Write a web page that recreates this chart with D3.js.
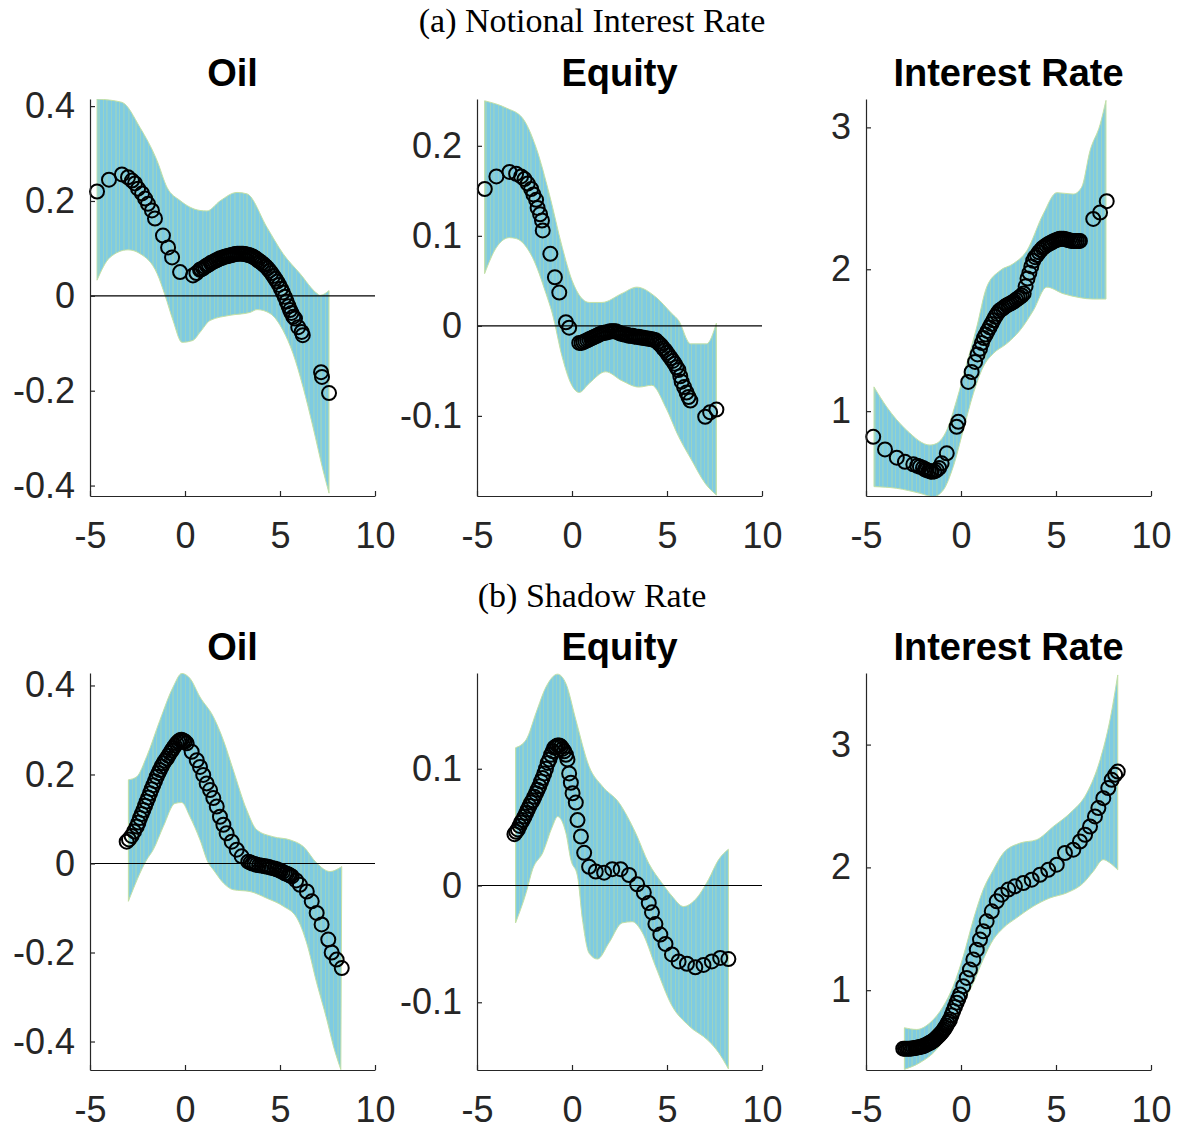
<!DOCTYPE html>
<html>
<head>
<meta charset="utf-8">
<script src="https://cdn.jsdelivr.net/npm/d3@7"></script>
<style>
body{margin:0;background:#fff;}
svg{display:block;}
.tick text{font-family:"Liberation Sans",Arial,sans-serif;font-size:36px;fill:#262626;}
.panelTitle{font-family:"Liberation Sans",Arial,sans-serif;font-size:38px;font-weight:bold;fill:#000;}
.rowTitle{font-family:"Liberation Serif","Times New Roman",serif;font-size:34px;fill:#000;}
</style>
</head>
<body>
<svg id="chart" width="1178" height="1129"></svg>
<script>
// titles and ticks
var rowTitles = ["(a) Notional Interest Rate", "(b) Shadow Rate"];
var panelTitles = ["Oil", "Equity", "Interest Rate"];
var xTicks = [-5, 0, 5, 10];
var oilTicks = [-0.4, -0.2, 0, 0.2, 0.4];
var eqTicksA = [-0.1, 0, 0.1, 0.2];
var eqTicksB = [-0.1, 0, 0.1];
var irTicks = [1, 2, 3];

// y limits
var oilA_ylim = [-0.422, 0.415];
var eqA_ylim = [-0.189, 0.252];
var irA_ylim = [0.402, 3.2];
var oilB_ylim = [-0.464, 0.428];
var eqB_ylim = [-0.158, 0.182];
var irB_ylim = [0.35, 3.583];

// (a) Oil
var oilA_upper = [[-4.63,0.415],[-3.32,0.408],[-2.37,0.355],[-1.47,0.285],[-0.95,0.229],[-0.26,0.201],[0.79,0.18],[1.16,0.179],[1.84,0.2],[2.74,0.218],[3.26,0.215],[4.32,0.144],[5.16,0.089],[6.05,0.047],[6.95,0.005],[7.11,0.001],[7.58,0.011]];
var oilA_lower = [[-4.63,0.033],[-3.95,0.081],[-3.0,0.097],[-2.37,0.089],[-1.47,0.047],[-1.05,0.001],[-0.63,-0.052],[-0.16,-0.098],[0.42,-0.094],[0.79,-0.077],[1.32,-0.052],[2.37,-0.041],[3.42,-0.035],[3.79,-0.029],[4.47,-0.037],[5.16,-0.073],[5.68,-0.121],[6.21,-0.192],[6.74,-0.277],[7.26,-0.367],[7.58,-0.416]];
var oilA_pts = [[-4.63,0.22],[-4.0,0.245],[-3.32,0.256],[-3.0,0.25],[-2.79,0.243],[-2.63,0.237],[-2.47,0.226],[-2.26,0.216],[-2.1,0.205],[-1.95,0.194],[-1.74,0.18],[-1.58,0.163],[-1.16,0.127],[-0.89,0.102],[-0.68,0.081],[-0.26,0.05],[0.42,0.043],[0.6,0.048],[0.79,0.055],
  [0.85,0.056],[0.95,0.058],[1.05,0.061],[1.15,0.064],[1.25,0.066],[1.35,0.069],[1.45,0.071],[1.55,0.073],[1.65,0.075],[1.75,0.077],[1.85,0.079],[1.95,0.08],[2.05,0.082],[2.15,0.083],[2.25,0.084],[2.35,0.085],[2.45,0.086],[2.55,0.087],[2.65,0.088],[2.75,0.089],[2.85,0.089],[2.95,0.089],[3.05,0.089],[3.15,0.088],[3.25,0.087],[3.35,0.086],[3.45,0.085],[3.55,0.083],[3.65,0.081],[3.75,0.078],[3.85,0.075],[3.95,0.072],[4.05,0.069],[4.15,0.066],[4.25,0.062],[4.35,0.058],[4.45,0.053],[4.55,0.048],[4.65,0.042],[4.75,0.036],[4.85,0.03],[4.95,0.023],[5.05,0.015],[5.15,0.007],[5.25,-0.002],[5.35,-0.012],[5.45,-0.022],[5.53,-0.03],[5.6,-0.036],[5.7,-0.044],[5.79,-0.048],[5.96,-0.066],[6.14,-0.076],[6.2,-0.083],[7.16,-0.161],[7.21,-0.171],[7.58,-0.205]];

// (a) Equity
var eqA_upper = [[-4.6,0.25],[-3.46,0.242],[-2.61,0.231],[-1.89,0.198],[-1.19,0.146],[-0.51,0.087],[0.01,0.05],[0.9,0.026],[1.58,0.026],[2.63,0.036],[3.41,0.043],[4.41,0.032],[5.24,0.014],[5.61,0.006],[6.24,-0.02],[7.08,-0.02],[7.6,0.003]];
var eqA_lower = [[-4.6,0.058],[-3.98,0.087],[-3.29,0.098],[-2.94,0.097],[-2.08,0.076],[-1.37,0.036],[-1.04,0.014],[-0.51,-0.035],[-0.06,-0.064],[0.38,-0.074],[0.9,-0.064],[1.77,-0.051],[2.63,-0.061],[3.52,-0.068],[4.2,-0.066],[4.92,-0.09],[5.61,-0.123],[6.29,-0.149],[7.01,-0.175],[7.6,-0.188]];
var eqA_pts = [[-4.59,0.152],[-3.98,0.166],[-3.29,0.171],[-2.94,0.169],[-2.68,0.166],[-2.5,0.163],[-2.33,0.158],[-2.15,0.152],[-2.03,0.146],[-1.89,0.14],[-1.81,0.131],[-1.68,0.124],[-1.58,0.117],[-1.54,0.106],[-1.14,0.08],[-0.9,0.054],[-0.67,0.037],[-0.32,0.004],[-0.15,-0.002],[0.38,-0.019],
  [0.5,-0.019],[0.6,-0.018],[0.7,-0.017],[0.8,-0.016],[0.9,-0.015],[1.0,-0.014],[1.1,-0.013],[1.2,-0.012],[1.3,-0.011],[1.4,-0.01],[1.5,-0.009],[1.6,-0.008],[1.7,-0.008],[1.8,-0.007],[1.9,-0.007],[2.0,-0.006],[2.1,-0.006],[2.2,-0.006],[2.3,-0.006],[2.4,-0.007],[2.5,-0.008],[2.6,-0.009],[2.7,-0.009],[2.8,-0.01],[2.9,-0.01],[3.0,-0.011],[3.1,-0.011],[3.2,-0.011],[3.3,-0.012],[3.4,-0.012],[3.5,-0.012],[3.6,-0.013],[3.7,-0.013],[3.8,-0.0135],[3.9,-0.014],[4.0,-0.014],[4.1,-0.0145],[4.2,-0.015],[4.3,-0.0155],[4.4,-0.016],[4.5,-0.018],[4.6,-0.02],[4.7,-0.022],[4.8,-0.025],[4.9,-0.027],[5.0,-0.03],[5.1,-0.033],[5.2,-0.036],[5.3,-0.039],[5.4,-0.042],[5.5,-0.046],[5.6,-0.049],[5.7,-0.056],[5.77,-0.062],[5.9,-0.068],[6.03,-0.074],[6.13,-0.079],[6.23,-0.083],[7.01,-0.101],[7.27,-0.096],[7.6,-0.093]];

// (a) Interest Rate
var irA_upper = [[-4.58,1.171],[-3.91,1.03],[-2.86,0.866],[-1.63,0.761],[-1.28,0.773],[-0.75,0.866],[-0.23,1.077],[0.3,1.335],[0.83,1.593],[1.35,1.874],[2.05,1.99],[2.74,2.038],[3.46,2.13],[4.33,2.39],[5.04,2.54],[5.91,2.53],[6.35,2.578],[6.79,2.835],[7.32,3.02],[7.63,3.19]];
var irA_lower = [[-4.58,0.468],[-3.38,0.456],[-2.16,0.421],[-1.46,0.397],[-0.93,0.444],[-0.41,0.608],[0.12,0.866],[0.65,1.124],[1.17,1.312],[1.7,1.406],[2.41,1.476],[3.11,1.57],[3.81,1.71],[4.51,1.874],[5.38,1.828],[6.26,1.8],[6.96,1.79],[7.63,1.79]];
var irA_pts = [[-4.62,0.819],[-4.0,0.73],[-3.38,0.672],[-2.95,0.643],[-2.51,0.625],[-2.3,0.615],[-2.16,0.608],[-2.0,0.6],[-1.9,0.59],[-1.81,0.585],[-1.7,0.58],[-1.6,0.575],[-1.54,0.573],[-1.4,0.575],[-1.28,0.585],[-1.15,0.6],[-1.02,0.632],[-0.75,0.703],[-0.23,0.89],[-0.14,0.925],[0.38,1.206],[0.56,1.276],[0.74,1.347],[0.87,1.4],
  [1.0,1.44],[1.1,1.48],[1.2,1.515],[1.3,1.54],[1.4,1.565],[1.5,1.59],[1.6,1.615],[1.7,1.64],[1.8,1.665],[1.9,1.685],[2.0,1.705],[2.1,1.715],[2.2,1.725],[2.3,1.735],[2.4,1.745],[2.5,1.752],[2.6,1.758],[2.7,1.766],[2.8,1.775],[2.9,1.785],[3.0,1.795],[3.1,1.804],[3.2,1.815],[3.3,1.83],[3.4,1.88],[3.5,1.935],[3.6,1.975],[3.7,2.02],[3.8,2.06],[3.9,2.085],[4.0,2.1],[4.1,2.12],[4.2,2.135],[4.3,2.15],[4.4,2.16],[4.5,2.17],[4.6,2.178],[4.7,2.185],[4.8,2.192],[4.9,2.2],[5.0,2.205],[5.1,2.21],[5.2,2.215],[5.3,2.215],[5.4,2.215],[5.5,2.212],[5.6,2.208],[5.7,2.204],[5.8,2.2],[5.9,2.2],[6.0,2.2],[6.1,2.2],[6.2,2.2],[6.26,2.2],[6.96,2.355],[7.32,2.4],[7.67,2.48]];

// (b) Oil
var oilB_upper = [[-2.98,0.188],[-2.54,0.195],[-2.02,0.24],[-1.32,0.322],[-0.62,0.397],[-0.17,0.427],[0.26,0.416],[0.79,0.374],[1.49,0.33],[2.02,0.277],[2.54,0.21],[3.25,0.12],[3.77,0.076],[4.65,0.06],[5.53,0.053],[6.23,0.038],[6.93,0.001],[7.63,-0.018],[8.25,-0.007]];
var oilB_lower = [[-2.98,-0.085],[-2.02,0.008],[-1.67,0.031],[-1.14,0.083],[-0.53,0.135],[-0.17,0.137],[0.26,0.105],[0.79,0.053],[1.23,0.001],[1.49,-0.014],[2.02,-0.044],[2.54,-0.059],[3.42,-0.063],[4.3,-0.078],[5.17,-0.096],[5.88,-0.122],[6.4,-0.178],[6.93,-0.268],[7.46,-0.35],[7.81,-0.41],[8.2,-0.463]];
var oilB_pts = [[-3.07,0.049],[-2.95,0.054],[-2.81,0.062],[-2.68,0.072],[-2.54,0.083],[-2.45,0.092],[-2.37,0.102],[-2.28,0.111],[-2.19,0.12],[-2.1,0.13],[-2.02,0.139],[-1.93,0.148],[-1.84,0.158],[-1.76,0.167],[-1.67,0.176],[-1.58,0.185],[-1.49,0.195],[-1.4,0.203],[-1.32,0.21],[-1.23,0.218],[-1.14,0.225],[-1.05,0.231],[-0.96,0.236],[-0.88,0.242],[-0.79,0.248],[-0.7,0.254],[-0.62,0.259],[-0.53,0.265],[-0.44,0.27],[-0.35,0.274],[-0.26,0.277],[-0.18,0.278],[-0.09,0.276],[0.0,0.274],[0.09,0.27],
  [0.35,0.251],[0.62,0.232],[0.79,0.217],[0.96,0.199],[1.14,0.18],[1.32,0.165],[1.49,0.147],[1.67,0.128],[1.84,0.105],[2.02,0.087],[2.19,0.068],[2.46,0.049],[2.72,0.031],[2.98,0.016],[3.33,0.004],[3.45,0.002],[3.55,0.0],[3.66,-0.001],[3.77,-0.003],[3.9,-0.004],[4.05,-0.005],[4.18,-0.006],[4.3,-0.007],[4.42,-0.008],[4.55,-0.01],[4.7,-0.011],[4.83,-0.013],[4.95,-0.015],[5.05,-0.017],[5.15,-0.019],[5.26,-0.022],[5.35,-0.023],[5.45,-0.025],[5.53,-0.027],[5.62,-0.029],[5.85,-0.038],[6.05,-0.048],[6.41,-0.063],[6.67,-0.085],[6.93,-0.111],[7.19,-0.137],[7.54,-0.171],[7.72,-0.2],[7.98,-0.216],[8.25,-0.235]];

// (b) Equity
var eqB_upper = [[-2.97,0.118],[-2.41,0.125],[-1.89,0.148],[-1.37,0.17],[-0.76,0.181],[-0.32,0.173],[0.2,0.142],[0.9,0.102],[1.6,0.085],[2.47,0.071],[3.35,0.045],[4.04,0.019],[4.74,0.002],[5.26,-0.009],[5.87,-0.018],[6.49,-0.012],[7.18,0.005],[7.71,0.022],[8.23,0.031]];
var eqB_lower = [[-2.97,-0.032],[-2.41,-0.006],[-2.07,0.014],[-1.54,0.028],[-1.02,0.051],[-0.76,0.059],[-0.32,0.045],[-0.06,0.022],[0.29,0.008],[0.55,-0.029],[0.9,-0.058],[1.34,-0.063],[1.95,-0.049],[2.64,-0.032],[3.17,-0.031],[3.69,-0.04],[4.39,-0.069],[5.26,-0.103],[6.14,-0.12],[7.18,-0.133],[7.71,-0.143],[8.23,-0.157]];
var eqB_pts = [[-3.03,0.044],[-2.94,0.046],[-2.85,0.048],[-2.76,0.051],[-2.68,0.054],[-2.59,0.056],[-2.5,0.059],[-2.41,0.062],[-2.33,0.065],[-2.24,0.068],[-2.15,0.071],[-2.06,0.073],[-1.98,0.076],[-1.89,0.079],[-1.81,0.082],[-1.72,0.085],[-1.63,0.089],[-1.55,0.092],[-1.46,0.096],[-1.37,0.1],[-1.28,0.105],[-1.19,0.108],[-1.1,0.112],[-1.01,0.115],[-0.93,0.118],[-0.85,0.119],[-0.76,0.12],[-0.67,0.12],[-0.58,0.119],[-0.5,0.117],[-0.41,0.115],[-0.32,0.112],[-0.24,0.108],[-0.15,0.096],[-0.06,0.088],[0.03,0.079],
  [0.2,0.071],[0.29,0.056],[0.47,0.042],[0.64,0.028],[0.9,0.016],[1.25,0.012],[1.69,0.011],[2.12,0.014],[2.56,0.014],[3.0,0.009],[3.43,0.001],[3.78,-0.006],[4.04,-0.015],[4.21,-0.023],[4.39,-0.033],[4.65,-0.042],[4.92,-0.05],[5.26,-0.059],[5.61,-0.065],[6.05,-0.067],[6.49,-0.07],[6.92,-0.068],[7.36,-0.065],[7.8,-0.062],[8.23,-0.063]];

// (b) Interest Rate
var irB_upper = [[-2.98,0.694],[-2.33,0.68],[-1.63,0.735],[-0.93,0.87],[-0.41,1.033],[0.12,1.276],[0.65,1.575],[1.17,1.819],[1.7,1.98],[2.23,2.117],[3.11,2.198],[3.98,2.225],[4.86,2.333],[5.74,2.442],[6.62,2.605],[7.32,2.876],[7.84,3.2],[8.25,3.567]];
var irB_lower = [[-2.98,0.355],[-2.16,0.41],[-1.28,0.518],[-0.58,0.68],[0.04,0.87],[0.65,1.06],[1.17,1.25],[1.7,1.412],[2.23,1.507],[2.93,1.589],[3.81,1.683],[4.68,1.751],[5.56,1.792],[6.44,1.873],[6.96,1.967],[7.49,2.063],[7.84,2.036],[8.25,1.98]];
var irB_pts = [[-3.04,0.524],[-2.95,0.524],[-2.85,0.524],[-2.76,0.524],[-2.68,0.524],[-2.59,0.526],[-2.5,0.528],[-2.41,0.53],[-2.33,0.532],[-2.24,0.535],[-2.15,0.538],[-2.06,0.541],[-1.98,0.545],[-1.89,0.551],[-1.8,0.558],[-1.72,0.565],[-1.63,0.572],[-1.56,0.578],[-1.5,0.585],[-1.43,0.592],[-1.37,0.6],[-1.3,0.61],[-1.24,0.62],[-1.17,0.63],[-1.11,0.64],[-1.04,0.652],[-0.97,0.665],[-0.9,0.68],[-0.84,0.694],[-0.77,0.712],[-0.71,0.73],[-0.64,0.745],[-0.58,0.762],[-0.5,0.795],[-0.41,0.83],[-0.32,0.864],[-0.23,0.898],[-0.14,0.93],[-0.05,0.965],
  [0.12,1.033],[0.3,1.1],[0.47,1.168],[0.65,1.25],[0.83,1.33],[1.0,1.412],[1.17,1.48],[1.35,1.561],[1.62,1.642],[1.88,1.724],[2.14,1.778],[2.49,1.819],[2.84,1.846],[3.28,1.873],[3.72,1.9],[4.16,1.94],[4.59,1.98],[5.04,2.022],[5.47,2.117],[5.91,2.144],[6.26,2.211],[6.53,2.266],[6.79,2.333],[7.05,2.415],[7.23,2.483],[7.49,2.564],[7.75,2.646],[7.93,2.713],[8.11,2.754],[8.25,2.78]];

var panels = [
  {row:0, col:0, upper:oilA_upper, lower:oilA_lower, pts:oilA_pts, ylim:oilA_ylim, yTicks:oilTicks, zero:true},
  {row:0, col:1, upper:eqA_upper, lower:eqA_lower, pts:eqA_pts, ylim:eqA_ylim, yTicks:eqTicksA, zero:true},
  {row:0, col:2, upper:irA_upper, lower:irA_lower, pts:irA_pts, ylim:irA_ylim, yTicks:irTicks, zero:false},
  {row:1, col:0, upper:oilB_upper, lower:oilB_lower, pts:oilB_pts, ylim:oilB_ylim, yTicks:oilTicks, zero:true},
  {row:1, col:1, upper:eqB_upper, lower:eqB_lower, pts:eqB_pts, ylim:eqB_ylim, yTicks:eqTicksB, zero:true},
  {row:1, col:2, upper:irB_upper, lower:irB_lower, pts:irB_pts, ylim:irB_ylim, yTicks:irTicks, zero:false}
];

var colLeft = [90, 477, 866],
    rowTop = [99, 673],
    plotW = 285,
    plotH = 397;

var svg = d3.select("#chart");

//striped fill for the bands
var defs = svg.append("defs");
var pat = defs.append("pattern")
  .attr("id", "bandFill")
  .attr("patternUnits", "userSpaceOnUse")
  .attr("width", 37)
  .attr("height", 20);
pat.append("rect").attr("width", 37).attr("height", 20).attr("fill", "#7ecbe2");
[[1.5,0.8],[5,0.6],[8.5,1.1],[13,0.7],[16.5,0.9],[21,0.6],[25.5,1.0],[29,0.7],[33.5,0.9]].forEach(function(s){
  pat.append("rect")
    .attr("x", s[0]).attr("y", 0)
    .attr("width", s[1]).attr("height", 20)
    .attr("fill", "#b2d9a6")
    .attr("opacity", 0.75);
});

svg.selectAll(".rowTitle")
  .data(rowTitles)
  .enter().append("text")
  .attr("class", "rowTitle")
  .attr("x", 592)
  .attr("y", function(d, i){ return [32, 607][i]; })
  .attr("text-anchor", "middle")
  .text(function(d){ return d; });

panels.forEach(function(p, i){
  var g = svg.append("g")
    .attr("transform", "translate(" + colLeft[p.col] + "," + rowTop[p.row] + ")");

  var x = d3.scaleLinear().domain([-5, 10]).range([0, plotW]);
  var y = d3.scaleLinear().domain(p.ylim).range([plotH, 0]);

  defs.append("clipPath").attr("id", "clip" + i)
    .append("rect").attr("x", 0).attr("y", 0).attr("width", plotW).attr("height", plotH);

  var line = d3.line()
    .curve(d3.curveMonotoneX)
    .x(function(d){ return x(d[0]); })
    .y(function(d){ return y(d[1]); });

  var up = line(p.upper);
  var lo = line(p.lower.slice().reverse());
  g.append("path")
    .attr("clip-path", "url(#clip" + i + ")")
    .attr("d", up + "L" + lo.slice(1) + "Z")
    .attr("fill", "url(#bandFill)")
    .attr("stroke", "#c3e0a6")
    .attr("stroke-width", 1);

  if (p.zero) {
    g.append("line")
      .attr("x1", 0).attr("x2", plotW)
      .attr("y1", y(0)).attr("y2", y(0))
      .attr("stroke", "#000")
      .attr("stroke-width", 1.2);
  }

  g.selectAll(".pt")
    .data(p.pts)
    .enter().append("circle")
    .attr("class", "pt")
    .attr("cx", function(d){ return x(d[0]); })
    .attr("cy", function(d){ return y(d[1]); })
    .attr("r", 7)
    .attr("fill", "none")
    .attr("stroke", "#000")
    .attr("stroke-width", 2);

  var xAxis = d3.axisBottom(x)
    .tickValues(xTicks)
    .tickSize(-5)
    .tickSizeOuter(0)
    .tickPadding(26)
    .tickFormat(function(d){ return String(d); });
  var yAxis = d3.axisLeft(y)
    .tickValues(p.yTicks)
    .tickSize(-5)
    .tickSizeOuter(0)
    .tickPadding(15)
    .tickFormat(function(d){ return String(d); });

  g.append("g")
    .attr("class", "x axis")
    .attr("transform", "translate(0," + plotH + ")")
    .style("color", "#262626")
    .call(xAxis);
  g.append("g")
    .attr("class", "y axis")
    .style("color", "#262626")
    .call(yAxis);
  g.selectAll(".axis path, .axis line").attr("stroke-width", 1.2);

  g.append("text")
    .attr("class", "panelTitle")
    .attr("x", plotW / 2)
    .attr("y", -13)
    .attr("text-anchor", "middle")
    .text(panelTitles[p.col]);
});
</script>
</body>
</html>
